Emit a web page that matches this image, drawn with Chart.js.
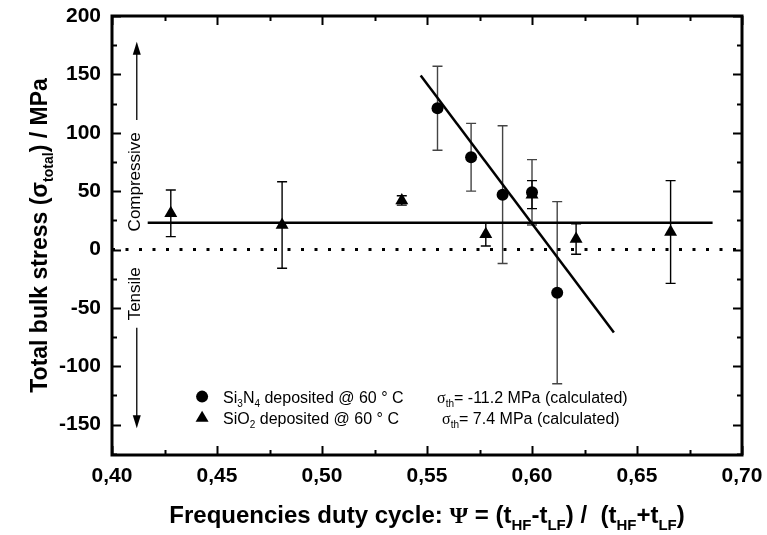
<!DOCTYPE html>
<html>
<head>
<meta charset="utf-8">
<script src="https://cdn.jsdelivr.net/npm/chart.js@4.4.1/dist/chart.umd.min.js"></script>
<style>
  html, body { margin: 0; padding: 0; background: #fff; }
</style>
</head>
<body>
<canvas id="c" width="767" height="535"></canvas>
<script>
// Si3N4 deposited @ 60 °C (circles)
const si3n4X = [0.555, 0.571, 0.586, 0.600, 0.612];
const si3n4Y = [121, 79, 47, 49, -37];
const si3n4Err = [36, 29, 59, 28, 78];

// SiO2 deposited @ 60 °C (triangles)
const sio2X = [0.428, 0.481, 0.538, 0.578, 0.600, 0.621, 0.666];
const sio2Y = [31, 21, 42, 13, 47, 9, 15];
const sio2Err = [20, 37, 4, 10, 12, 13, 44];

// fitted lines
const fitSi3n4X = [0.547, 0.639];
const fitSi3n4Y = [149, -71];
const fitSio2X = [0.417, 0.686];
const fitSio2Y = [23, 23];
const zeroX = [0.40, 0.70];
const zeroY = [0, 0];

// ticks
const xTicks = [0.40, 0.45, 0.50, 0.55, 0.60, 0.65, 0.70];
const yTicks = [-150, -100, -50, 0, 50, 100, 150, 200];

const FONT = '"Liberation Sans", Arial, sans-serif';
const SERIF = '"Liberation Serif", "Times New Roman", serif';

const pts = (xs, ys) => xs.map((x, i) => ({ x: x, y: ys[i] }));

// draws text made of parts: [text, isSub, fontFamily]
function drawRich(ctx, parts, x, y, size, weight, align) {
  const subSize = Math.round(size * 0.62);
  const fontOf = p => weight + ' ' + (p[1] ? subSize : size) + 'px ' + (p[2] || FONT);
  let w = 0;
  parts.forEach(p => { ctx.font = fontOf(p); w += ctx.measureText(p[0]).width; });
  let cx = align === 'center' ? x - w / 2 : x;
  ctx.textAlign = 'left';
  ctx.textBaseline = 'alphabetic';
  parts.forEach(p => {
    ctx.font = fontOf(p);
    ctx.fillText(p[0], cx, y + (p[1] ? size * 0.28 : 0));
    cx += ctx.measureText(p[0]).width;
  });
}

function arrow(ctx, x, y0, y1) {
  const dir = y1 < y0 ? -1 : 1;
  ctx.beginPath();
  ctx.moveTo(x, y0);
  ctx.lineTo(x, y1 - dir * 10);
  ctx.stroke();
  ctx.beginPath();
  ctx.moveTo(x, y1);
  ctx.lineTo(x - 4, y1 - dir * 13);
  ctx.lineTo(x + 4, y1 - dir * 13);
  ctx.closePath();
  ctx.fill();
}

const decor = {
  id: 'decor',
  beforeDatasetsDraw(chart) {
    const ctx = chart.ctx, xs = chart.scales.x, ys = chart.scales.y;
    const bars = (X, Y, E, color) => {
      ctx.strokeStyle = color;
      ctx.lineWidth = 1.4;
      X.forEach((v, i) => {
        const px = xs.getPixelForValue(v);
        const top = ys.getPixelForValue(Y[i] + E[i]);
        const bot = ys.getPixelForValue(Y[i] - E[i]);
        ctx.beginPath();
        ctx.moveTo(px, top); ctx.lineTo(px, bot);
        ctx.moveTo(px - 5, top); ctx.lineTo(px + 5, top);
        ctx.moveTo(px - 5, bot); ctx.lineTo(px + 5, bot);
        ctx.stroke();
      });
    };
    ctx.save();
    bars(si3n4X, si3n4Y, si3n4Err, '#444');
    bars(sio2X, sio2Y, sio2Err, '#000');
    ctx.restore();
  },
  afterDraw(chart) {
    const ctx = chart.ctx, xs = chart.scales.x, ys = chart.scales.y;
    const a = chart.chartArea;
    ctx.save();
    ctx.strokeStyle = '#000';
    ctx.fillStyle = '#000';

    // inward ticks on all four sides
    ctx.lineWidth = 2;
    ctx.beginPath();
    for (let i = 0; i <= 12; i++) {
      const v = 0.40 + i * 0.025;
      const px = Math.round(xs.getPixelForValue(v)) + 0.5;
      const len = i % 2 === 0 ? 9 : 5;
      ctx.moveTo(px, a.bottom); ctx.lineTo(px, a.bottom - len);
      ctx.moveTo(px, a.top); ctx.lineTo(px, a.top + len);
    }
    for (let v = -175; v <= 200; v += 25) {
      const py = Math.round(ys.getPixelForValue(v)) + 0.5;
      const len = v % 50 === 0 ? 9 : 5;
      ctx.moveTo(a.left, py); ctx.lineTo(a.left + len, py);
      ctx.moveTo(a.right, py); ctx.lineTo(a.right - len, py);
    }
    ctx.stroke();

    // frame
    ctx.lineWidth = 3;
    ctx.strokeRect(a.left, a.top, a.right - a.left, a.bottom - a.top);

    // compressive / tensile arrows
    const ax = xs.getPixelForValue(0.4118);
    ctx.lineWidth = 1.3;
    arrow(ctx, ax, ys.getPixelForValue(111), ys.getPixelForValue(178));
    arrow(ctx, ax, ys.getPixelForValue(-67), ys.getPixelForValue(-153));
    ctx.font = '17px ' + FONT;
    ctx.textAlign = 'center';
    ctx.textBaseline = 'middle';
    [['Compressive', 58], ['Tensile', -38]].forEach(t => {
      ctx.save();
      ctx.translate(ax - 1, ys.getPixelForValue(t[1]));
      ctx.rotate(-Math.PI / 2);
      ctx.fillText(t[0], 0, 0);
      ctx.restore();
    });

    // legend
    const lx = xs.getPixelForValue(0.4429);
    const ly1 = ys.getPixelForValue(-126), ly2 = ys.getPixelForValue(-144);
    ctx.beginPath();
    ctx.arc(lx, ly1, 6, 0, Math.PI * 2);
    ctx.fill();
    ctx.beginPath();
    ctx.moveTo(lx, ly2 - 7);
    ctx.lineTo(lx + 6.5, ly2 + 4);
    ctx.lineTo(lx - 6.5, ly2 + 4);
    ctx.closePath();
    ctx.fill();
    const tx = xs.getPixelForValue(0.4529);
    drawRich(ctx, [['Si'], ['3', 1], ['N'], ['4', 1], [' deposited @ 60 ° C']], tx, ly1 + 6, 16, 'normal');
    drawRich(ctx, [['SiO'], ['2', 1], [' deposited @ 60 ° C']], tx, ly2 + 6, 16, 'normal');
    drawRich(ctx, [['σ', 0, SERIF], ['th', 1], ['= -11.2 MPa (calculated)']], xs.getPixelForValue(0.5548), ly1 + 6, 16, 'normal');
    drawRich(ctx, [['σ', 0, SERIF], ['th', 1], ['= 7.4 MPa (calculated)']], xs.getPixelForValue(0.5572), ly2 + 6, 16, 'normal');

    // axis titles
    drawRich(ctx, [['Frequencies duty cycle: '], ['Ψ', 0, SERIF], [' = (t'], ['HF', 1], ['-t'], ['LF', 1],
      [') /  (t'], ['HF', 1], ['+t'], ['LF', 1], [')']], 427, 523, 24, 'bold', 'center');
    ctx.save();
    ctx.translate(47, (a.top + a.bottom) / 2);
    ctx.rotate(-Math.PI / 2);
    drawRich(ctx, [['Total bulk stress (σ'], ['total', 1], [') / MPa']], 0, 0, 23, 'bold', 'center');
    ctx.restore();

    ctx.restore();
  }
};

new Chart(document.getElementById('c'), {
  type: 'scatter',
  data: {
    datasets: [
      {
        label: 'Si3N4',
        data: pts(si3n4X, si3n4Y),
        pointStyle: 'circle',
        pointRadius: 6,
        backgroundColor: '#000',
        borderColor: '#000',
        borderWidth: 0
      },
      {
        label: 'SiO2',
        data: pts(sio2X, sio2Y),
        pointStyle: 'triangle',
        pointRadius: 7.5,
        backgroundColor: '#000',
        borderColor: '#000',
        borderWidth: 0
      },
      {
        type: 'line',
        data: pts(fitSi3n4X, fitSi3n4Y),
        borderColor: '#000',
        borderWidth: 2.5,
        pointRadius: 0
      },
      {
        type: 'line',
        data: pts(fitSio2X, fitSio2Y),
        borderColor: '#000',
        borderWidth: 2.5,
        pointRadius: 0
      },
      {
        type: 'line',
        data: pts(zeroX, zeroY),
        borderColor: '#000',
        borderWidth: 3,
        borderDash: [3, 10.5],
        borderCapStyle: 'butt',
        pointRadius: 0
      }
    ]
  },
  options: {
    responsive: false,
    animation: false,
    devicePixelRatio: 1,
    layout: { padding: { top: 16, right: 25, left: 0, bottom: 0 } },
    plugins: { legend: { display: false }, tooltip: { enabled: false } },
    scales: {
      x: {
        type: 'linear',
        min: 0.40,
        max: 0.70,
        afterBuildTicks: s => { s.ticks = xTicks.map(v => ({ value: v })); },
        afterFit: s => { s.height = 80; s.paddingLeft = 0; s.paddingRight = 0; },
        grid: { display: false, drawTicks: false },
        border: { display: false },
        ticks: {
          padding: 9,
          color: '#000',
          font: { family: FONT, size: 21, weight: 'bold' },
          callback: v => v.toFixed(2).replace('.', ',')
        }
      },
      y: {
        type: 'linear',
        min: -176,
        max: 200,
        afterBuildTicks: s => { s.ticks = yTicks.map(v => ({ value: v })); },
        afterFit: s => { s.width = 112; s.paddingTop = 0; s.paddingBottom = 0; },
        grid: { display: false, drawTicks: false },
        border: { display: false },
        ticks: {
          padding: 11,
          color: '#000',
          font: { family: FONT, size: 21, weight: 'bold' },
          callback: v => String(v)
        }
      }
    }
  },
  plugins: [decor]
});
</script>
</body>
</html>
